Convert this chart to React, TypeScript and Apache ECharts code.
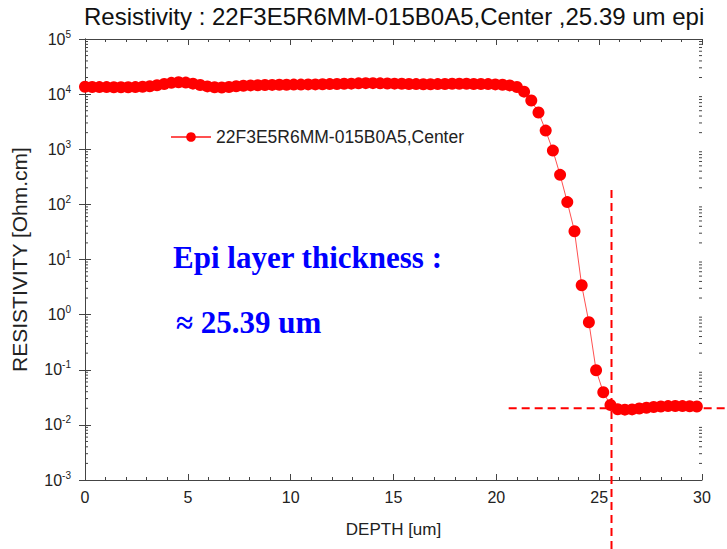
import React, { useEffect, useRef } from "react";
import * as echarts from "echarts";

const TITLE = "Resistivity : 22F3E5R6MM-015B0A5,Center ,25.39 um epi";
const SERIES_NAME = "22F3E5R6MM-015B0A5,Center";
const X_NAME = "DEPTH [um]";
const Y_NAME = "RESISTIVITY [Ohm.cm]";
const NOTE_1 = "Epi layer thickness :";
const NOTE_2 = "\u2248 25.39 um";

const depths = [
  0, 0.35, 0.7, 1.05, 1.4, 1.75, 2.1, 2.45, 2.8, 3.15,
  3.5, 3.85, 4.2, 4.55, 4.9, 5.25, 5.6, 5.95, 6.3, 6.65,
  7.0, 7.35, 7.7, 8.05, 8.4, 8.75, 9.1, 9.45, 9.8, 10.15,
  10.5, 10.85, 11.2, 11.55, 11.9, 12.25, 12.6, 12.95, 13.3, 13.65,
  14.0, 14.35, 14.7, 15.05, 15.4, 15.75, 16.1, 16.45, 16.8, 17.15,
  17.5, 17.85, 18.2, 18.55, 18.9, 19.25, 19.6, 19.95, 20.3, 20.65,
  21.0, 21.35, 21.7, 22.05, 22.4, 22.75, 23.1, 23.45, 23.8, 24.15,
  24.5, 24.85, 25.2, 25.55, 25.9, 26.25, 26.6, 26.95, 27.3, 27.65,
  28.0, 28.35, 28.7, 29.05, 29.4, 29.75,
];

const resistivity = [
  13600, 13500, 13400, 13400, 13300, 13300, 13300, 13400, 13600, 13900,
  14500, 15300, 16000, 16400, 16200, 15500, 14600, 13800, 13300, 13200,
  13500, 13900, 14200, 14400, 14500, 14600, 14700, 14800, 14800, 14900,
  14900, 15000, 15000, 15100, 15200, 15300, 15400, 15500, 15700, 15800,
  15800, 15700, 15600, 15500, 15400, 15300, 15200, 15100, 15100, 15200,
  15300, 15400, 15400, 15400, 15300, 15300, 15200, 15000, 14800, 14400,
  13500, 11100, 7650, 4640, 2180, 946, 343, 110, 32.6, 3.41,
  0.727, 0.098, 0.0391, 0.023, 0.0192, 0.0189, 0.0191, 0.0198, 0.0205, 0.0211,
  0.0216, 0.0219, 0.022, 0.0219, 0.0218, 0.0216,
];

// marker lines (depth of epi boundary, substrate resistivity level)
const markDepth = 25.6;
const markResistivity = 0.02;
const vLineTopValue = 183;
const hLineStartDepth = 20.6;

const Y_MIN = 0.001;
const Y_MAX = 100000;

const FONT = "'Liberation Sans', Arial, sans-serif";
const SERIF = "'Liberation Serif', 'Times New Roman', serif";

function minorLogTicks(): number[][] {
  const out: number[][] = [];
  for (let e = -3; e < 5; e++) {
    for (let k = 2; k <= 9; k++) out.push([0, k * Math.pow(10, e)]);
  }
  return out;
}

export default function App() {
  const ref = useRef<HTMLDivElement>(null);
  useEffect(() => {
    if (!ref.current) return;
    const chart = echarts.init(ref.current, undefined, { renderer: "svg" });
    const axisColor = "#444";
    const supFormatter = (v: number) => {
      const e = Math.round(Math.log10(v));
      return `{b|10}{s|${e}}`;
    };
    const xCommon = {
      type: "value",
      min: 0,
      max: 30,
      interval: 5,
      axisLine: { show: true, lineStyle: { color: axisColor, width: 1 } },
      axisTick: { show: true, inside: true, length: 6, lineStyle: { color: axisColor } },
      minorTick: { show: true, splitNumber: 5, length: 3, lineStyle: { color: axisColor } },
      splitLine: { show: false },
    };
    const yCommon = {
      type: "log",
      logBase: 10,
      min: Y_MIN,
      max: Y_MAX,
      splitNumber: 8,
      axisLine: { show: true, lineStyle: { color: axisColor, width: 1 } },
      axisTick: { show: true, inside: true, length: 6, lineStyle: { color: axisColor } },
      minorTick: { show: false },
      splitLine: { show: false },
    };
    chart.setOption({
      animation: false,
      backgroundColor: "#fff",
      title: {
        text: TITLE,
        left: 82,
        top: 0,
        padding: [3, 2, 2, 2],
        textStyle: { fontFamily: FONT, fontSize: 24, lineHeight: 26, fontWeight: "normal", color: "#111" },
      },
      grid: { left: 85, right: 25, top: 39, bottom: 69 },
      legend: {
        data: [SERIES_NAME],
        left: 165,
        top: 123,
        itemWidth: 40,
        itemHeight: 12,
        textStyle: { fontFamily: FONT, fontSize: 17.5, color: "#222" },
      },
      xAxis: [
        {
          ...xCommon,
          position: "bottom",
          axisLabel: { fontFamily: FONT, fontSize: 16, color: "#222", margin: 9 },
          name: X_NAME,
          nameLocation: "middle",
          nameGap: 41,
          nameTextStyle: { fontFamily: FONT, fontSize: 17, color: "#222" },
        },
        { ...xCommon, position: "top", axisLabel: { show: false } },
      ],
      yAxis: [
        {
          ...yCommon,
          position: "left",
          axisLabel: {
            formatter: supFormatter,
            margin: 14,
            rich: {
              b: { fontFamily: FONT, fontSize: 16, color: "#222" },
              s: { fontFamily: FONT, fontSize: 10, color: "#222", padding: [0, 0, 10, 0] },
            },
          },
          name: Y_NAME,
          nameLocation: "middle",
          nameGap: 55,
          nameTextStyle: { fontFamily: FONT, fontSize: 21, color: "#222" },
        },
        { ...yCommon, position: "right", axisLabel: { show: false } },
      ],
      series: [
        {
          name: SERIES_NAME,
          type: "line",
          data: depths.map((d, i) => [d, resistivity[i]]),
          symbol: "circle",
          symbolSize: 12,
          itemStyle: { color: "#ff0000" },
          lineStyle: { color: "#ff5050", width: 1 },
          z: 3,
        },
        {
          name: "minorTicks",
          type: "custom",
          silent: true,
          data: minorLogTicks(),
          renderItem: (params: any, api: any) => {
            const cs = params.coordSys;
            const y = api.coord([0, api.value(1)])[1];
            const style = { stroke: axisColor, lineWidth: 1 };
            return {
              type: "group",
              children: [
                { type: "line", shape: { x1: cs.x, y1: y, x2: cs.x + 3, y2: y }, style },
                { type: "line", shape: { x1: cs.x + cs.width - 3, y1: y, x2: cs.x + cs.width, y2: y }, style },
              ],
            };
          },
          z: 1,
        },
      ],
    });

    const p = chart.convertToPixel({ gridIndex: 0 }, [markDepth, markResistivity]) as number[];
    const pTop = chart.convertToPixel({ gridIndex: 0 }, [markDepth, vLineTopValue]) as number[];
    const pLeft = chart.convertToPixel({ gridIndex: 0 }, [hLineStartDepth, markResistivity]) as number[];
    const dash = { stroke: "#ff0000", lineWidth: 2, lineDash: [8, 5] };
    chart.setOption({
      graphic: [
        { type: "line", z: 10, shape: { x1: p[0], y1: pTop[1], x2: p[0], y2: 549 }, style: dash },
        { type: "line", z: 10, shape: { x1: pLeft[0], y1: p[1], x2: 727, y2: p[1] }, style: dash },
        {
          type: "text",
          left: 173,
          top: 242,
          z: 10,
          style: { text: NOTE_1, font: `bold 31px ${SERIF}`, fill: "#0000ff" },
        },
        {
          type: "text",
          left: 176,
          top: 307,
          z: 10,
          style: { text: NOTE_2, font: `bold 31px ${SERIF}`, fill: "#0000ff" },
        },
      ],
    });
    return () => chart.dispose();
  }, []);
  return (
    <div
      ref={ref}
      style={{ position: "absolute", left: 0, top: 0, width: 727, height: 549 }}
    />
  );
}
